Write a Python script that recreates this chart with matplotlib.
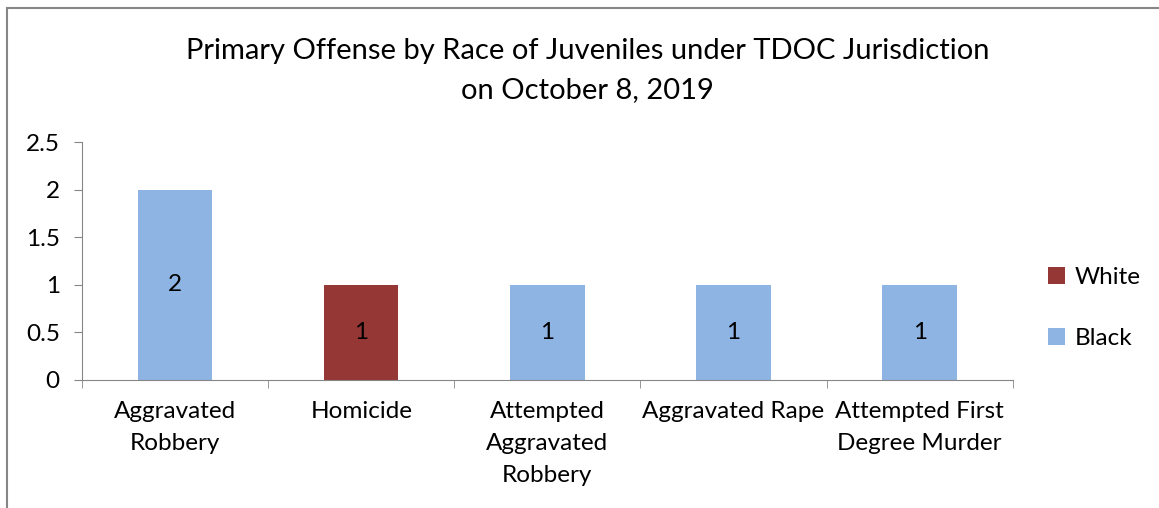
import matplotlib.pyplot as plt
from matplotlib.patches import Rectangle
import numpy as np

plt.rcParams['font.family'] = ['Lato', 'DejaVu Sans']

# data
categories = ['Aggravated\nRobbery', 'Homicide', 'Attempted\nAggravated\nRobbery',
              'Aggravated Rape', 'Attempted First\nDegree Murder']
white = [0, 1, 0, 0, 0]
black = [2, 0, 1, 1, 1]

c_white = '#953735'
c_black = '#8EB4E3'
fs = 17.5

fig = plt.figure(figsize=(11.59, 5.08), dpi=100)
ax = fig.add_axes([0.0708, 0.252, 0.803, 0.468])

x = np.arange(len(categories))
b1 = ax.bar(x, white, width=0.4, color=c_white, label='White')
b2 = ax.bar(x, black, width=0.4, bottom=white, color=c_black, label='Black')

# data labels (skip zero segments)
for bars, vals, base in [(b1, white, [0] * 5), (b2, black, white)]:
    for rect, v, b in zip(bars, vals, base):
        if v > 0:
            ax.text(rect.get_x() + rect.get_width() / 2, b + v / 2, str(v),
                    ha='center', va='center', fontsize=fs, color='black')

ax.set_xlim(-0.5, len(categories) - 0.5)
ax.set_ylim(0, 2.5)
ax.set_yticks([0, 0.5, 1, 1.5, 2, 2.5])
ax.set_yticklabels(['0', '0.5', '1', '1.5', '2', '2.5'])

ax.set_xticks(x)
ax.set_xticklabels(categories, fontsize=fs, linespacing=1.65)
ax.tick_params(axis='x', length=0, pad=15)
ax.set_xticks(np.arange(len(categories) + 1) - 0.5, minor=True)
ax.tick_params(axis='x', which='minor', length=6, color='#868686', direction='out')
ax.tick_params(axis='y', length=6, color='#868686', labelsize=fs, pad=10)

for s in ['top', 'right']:
    ax.spines[s].set_visible(False)
for s in ['left', 'bottom']:
    ax.spines[s].set_color('#868686')

fig.text(0.507, 0.925, 'Primary Offense by Race of Juveniles under TDOC Jurisdiction\non October 8, 2019',
         ha='center', va='top', fontsize=21, linespacing=1.6)

handles = [b1, b2]
leg = fig.legend(handles, ['White', 'Black'], loc='center left',
                 bbox_to_anchor=(0.885, 0.393), frameon=False, fontsize=fs,
                 handlelength=0.7, handleheight=0.7, handletextpad=0.4, labelspacing=1.65)

# outer chart frame (left and top visible)
fig.add_artist(Rectangle((0.006, -0.1), 1.2, 1.085, transform=fig.transFigure,
                         fill=False, edgecolor='#868686', linewidth=1.5))

fig.savefig('out.png', dpi=100)
